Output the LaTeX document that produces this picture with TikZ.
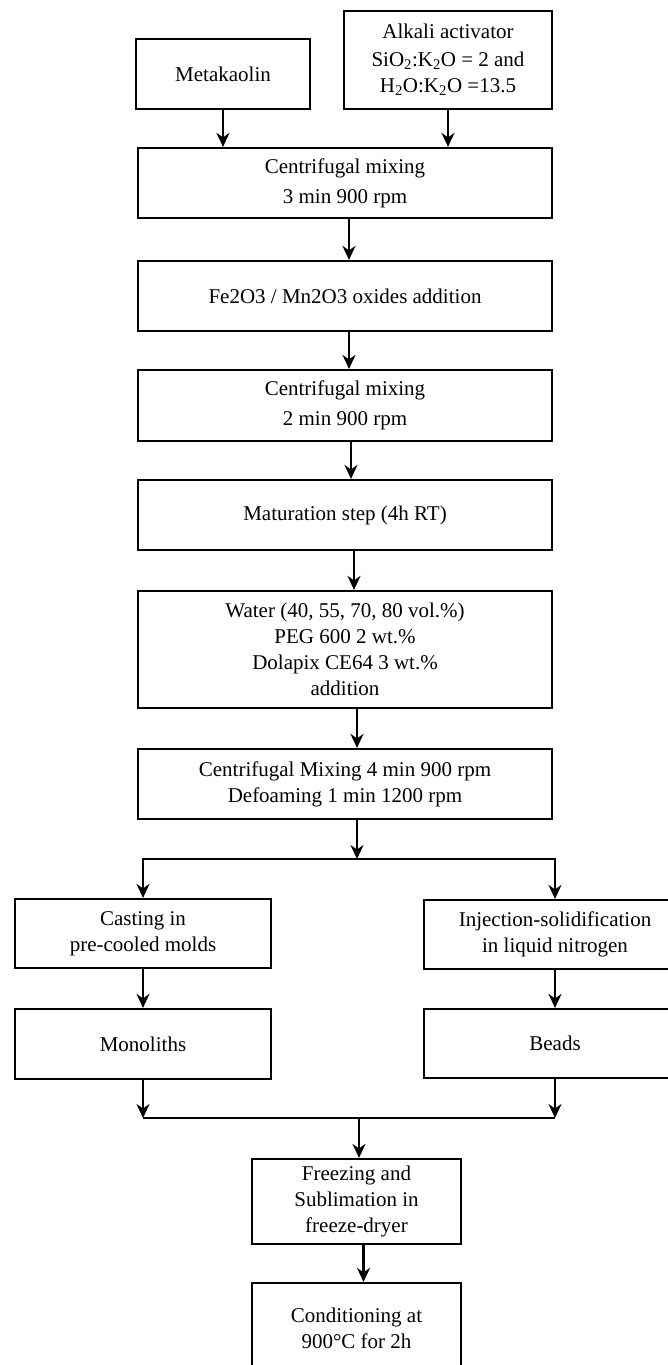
\documentclass[tikz,border=0pt]{standalone}
\usepackage{fontspec}
\setmainfont{Liberation Serif}
\usepackage{tikz}
\usetikzlibrary{arrows.meta,positioning,calc}

\begin{document}
\begin{tikzpicture}[
  x=1pt, y=-1pt,
  box/.style={draw, line width=2.2pt, inner sep=2pt, align=center,
              font=\fontsize{21}{26}\selectfont},
  >={Stealth[length=14pt,width=13pt]}, line width=2.2pt
]
  \path[use as bounding box, fill=white] (0,0) rectangle (668,1365);

  % inputs
  \node[box, minimum width=174pt, minimum height=70pt] (meta) at (223,74)
    {Metakaolin};
  \node[box, minimum width=208pt, minimum height=98pt] (alkali) at (448,60)
    {Alkali activator\\[2pt]
     SiO\textsubscript{2}:K\textsubscript{2}O = 2 and\\
     H\textsubscript{2}O:K\textsubscript{2}O =13.5};

  % main line
  \node[box, minimum width=414pt, minimum height=70pt] (mixA) at (345,183)
    {Centrifugal mixing\\[4pt] 3 min 900 rpm};
  \node[box, minimum width=414pt, minimum height=70pt] (oxide) at (345,296)
    {Fe2O3 / Mn2O3 oxides addition};
  \node[box, minimum width=414pt, minimum height=71pt] (mixB) at (345,405.5)
    {Centrifugal mixing\\[4pt] 2 min 900 rpm};
  \node[box, minimum width=414pt, minimum height=70pt] (matur) at (345,515)
    {Maturation step (4h RT)};
  \node[box, minimum width=414pt, minimum height=117pt] (water) at (345,649.5)
    {Water (40, 55, 70, 80 vol.\%)\\ PEG 600 2 wt.\%\\
     Dolapix CE64 3 wt.\%\\ addition};
  \node[box, minimum width=414pt, minimum height=70pt] (mixC) at (345,784)
    {Centrifugal Mixing 4 min 900 rpm\\ Defoaming 1 min 1200 rpm};

  % two shaping routes
  \node[box, minimum width=256pt, minimum height=69pt] (cast) at (143,933.5)
    {Casting in\\ pre-cooled molds};
  \node[box, minimum width=262pt, minimum height=69pt] (inject) at (555,934.5)
    {Injection-solidification\\ in liquid nitrogen};
  \node[box, minimum width=256pt, minimum height=70pt] (mono) at (143,1044)
    {Monoliths};
  \node[box, minimum width=262pt, minimum height=69pt] (beads) at (555,1043.5)
    {Beads};

  % final steps
  \node[box, minimum width=209pt, minimum height=85pt] (freeze) at (356.5,1201.5)
    {Freezing and\\ Sublimation in\\ freeze-dryer};
  \node[box, minimum width=209pt, minimum height=90pt] (cond) at (356.5,1328)
    {Conditioning at\\ 900°C for 2h};

  \coordinate (split) at (357,859);
  \coordinate (merge) at (359,1118);

  \draw[->] (meta.south) -- (meta.south |- mixA.north);
  \draw[->] (alkali.south) -- (alkali.south |- mixA.north);
  \draw[->] ([xshift=4pt]mixA.south) -- ([xshift=4pt]oxide.north);
  \draw[->] ([xshift=4pt]oxide.south) -- ([xshift=4pt]mixB.north);
  \draw[->] ([xshift=6pt]mixB.south) -- ([xshift=6pt]matur.north);
  \draw[->] ([xshift=9pt]matur.south) -- ([xshift=9pt]water.north);
  \draw[->] ([xshift=12pt]water.south) -- ([xshift=12pt]mixC.north);
  \draw[->] (split |- mixC.south) -- (split);
  \draw[->] (split) -| (cast.north);
  \draw[->] (split) -| (inject.north);
  \draw[->] (cast) -- (mono);
  \draw[->] (inject) -- (beads);
  \draw[->] (mono.south) -- (mono.south |- merge);
  \draw[->] (beads.south) -- (beads.south |- merge);
  \draw (mono.south |- merge) -- (beads.south |- merge);
  \draw[->] (merge) -- (merge |- freeze.north);
  \draw[->] ([xshift=7pt]freeze.south) -- ([xshift=7pt]cond.north);
\end{tikzpicture}
\end{document}
